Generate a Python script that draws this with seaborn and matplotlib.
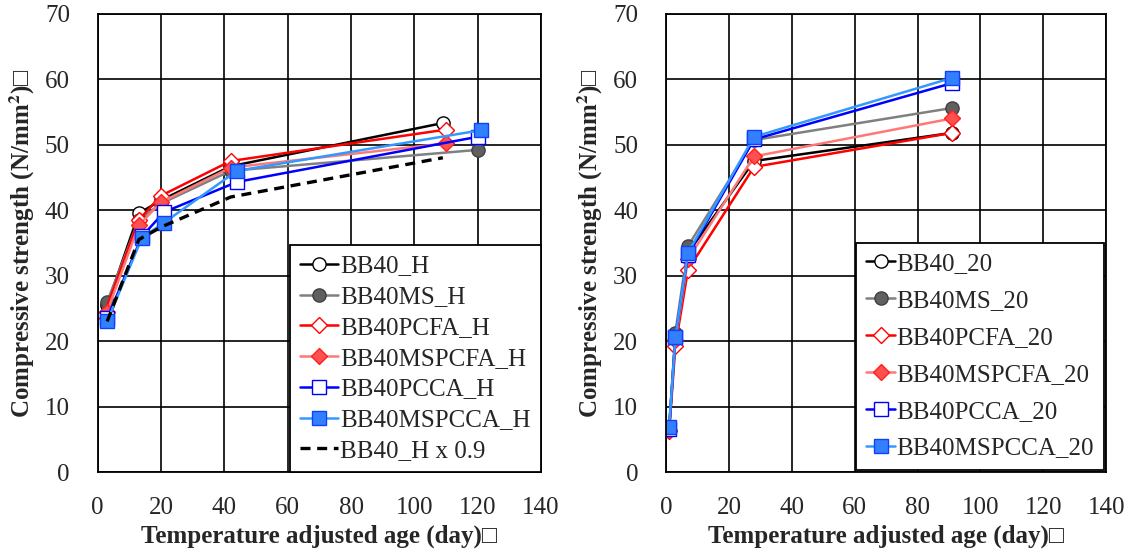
import matplotlib
matplotlib.use("Agg")
import matplotlib.pyplot as plt
import seaborn as sns

# ---- data ----
# left panel (H curing)
x_bb40_h = [3, 13, 20, 42, 109]
y_bb40_h = [25.5, 39.5, 41.5, 46.7, 53.3]
x_bb40ms_h = [3, 13, 20, 42, 120]
y_bb40ms_h = [26.0, 38.5, 41.0, 46.0, 49.2]
x_bb40pcfa_h = [2, 13, 20, 42, 110]
y_bb40pcfa_h = [24.0, 38.5, 42.2, 47.5, 52.3]
x_bb40mspcfa_h = [3, 13, 20, 42, 110]
y_bb40mspcfa_h = [24.5, 37.7, 41.2, 46.5, 50.2]
x_bb40pcca_h = [3, 14, 21, 44, 120]
y_bb40pcca_h = [23.5, 36.0, 39.7, 44.3, 51.2]
x_bb40mspcca_h = [3, 14, 21, 44, 121]
y_bb40mspcca_h = [23.0, 35.8, 38.1, 46.0, 52.2]
x_bb40_h09 = [3, 13, 20, 42, 109]
y_bb40_h09 = [23.0, 35.5, 37.4, 42.0, 48.0]

# right panel (20 C curing)
x_20 = [1, 3, 7, 28, 91]
y_bb40_20 = [6.5, 20.8, 33.5, 47.5, 51.8]
y_bb40ms_20 = [6.8, 21.3, 34.5, 50.7, 55.6]
y_bb40pcfa_20 = [6.2, 19.3, 30.9, 46.6, 51.8]
y_bb40mspcfa_20 = [6.4, 20.2, 32.5, 48.2, 54.0]
y_bb40pcca_20 = [6.5, 20.6, 33.2, 50.8, 59.4]
y_bb40mspcca_20 = [6.9, 20.6, 33.5, 51.2, 60.2]

sns.set_theme(style="white")
plt.rcParams['font.family'] = ['Liberation Serif', 'DejaVu Serif']
plt.rcParams['mathtext.fontset'] = 'stix'

fig = plt.figure(figsize=(11.33, 5.57), dpi=100)
ax1 = fig.add_axes([0.0862, 0.1526, 0.3913, 0.8228])
ax2 = fig.add_axes([0.5878, 0.1526, 0.3886, 0.8228])

# styles: color, marker, face, edge
styles = [
    ('black', 'o', 'white', 'black'),
    ('#808080', 'o', '#606060', '#404040'),
    ('red', 'D', 'white', 'red'),
    ('#FF7878', 'D', '#FF5050', '#FF2020'),
    ('blue', 's', 'white', 'blue'),
    ('#3399FF', 's', '#3380FF', '#1040FF'),
]

left_series = [
    ('BB40_H', x_bb40_h, y_bb40_h),
    ('BB40MS_H', x_bb40ms_h, y_bb40ms_h),
    ('BB40PCFA_H', x_bb40pcfa_h, y_bb40pcfa_h),
    ('BB40MSPCFA_H', x_bb40mspcfa_h, y_bb40mspcfa_h),
    ('BB40PCCA_H', x_bb40pcca_h, y_bb40pcca_h),
    ('BB40MSPCCA_H', x_bb40mspcca_h, y_bb40mspcca_h),
]
right_series = [
    ('BB40_20', x_20, y_bb40_20),
    ('BB40MS_20', x_20, y_bb40ms_20),
    ('BB40PCFA_20', x_20, y_bb40pcfa_20),
    ('BB40MSPCFA_20', x_20, y_bb40mspcfa_20),
    ('BB40PCCA_20', x_20, y_bb40pcca_20),
    ('BB40MSPCCA_20', x_20, y_bb40mspcca_20),
]

FS = 18


def draw(ax, series):
    for (name, xs, ys), (c, m, fc, ec) in zip(series, styles):
        msize = 8.5 if m == 'D' else 9.5
        sns.lineplot(x=xs, y=ys, ax=ax, color=c, marker=m, markersize=msize,
                     markerfacecolor=fc, markeredgecolor=ec, markeredgewidth=1.0,
                     linewidth=1.8, label=name, sort=False, errorbar=None)


draw(ax1, left_series)
sns.lineplot(x=x_bb40_h09, y=y_bb40_h09, ax=ax1, color='black', linewidth=2.4,
             linestyle=(0, (3, 2)), label='BB40_H x 0.9', sort=False, errorbar=None)
draw(ax2, right_series)

for ax in (ax1, ax2):
    ax.set_xlim(0, 140)
    ax.set_ylim(0, 70)
    ax.set_xticks(range(0, 141, 20))
    ax.set_yticks(range(0, 71, 10))
    ax.grid(True, color='black', linewidth=1.2)
    ax.set_axisbelow(True)
    for s in ax.spines.values():
        s.set_color('black')
        s.set_linewidth(1.3)
    ax.tick_params(axis='x', labelsize=FS, length=0, pad=18)
    ax.tick_params(axis='y', labelsize=FS, length=0, pad=20)
    ax.set_xlabel('Temperature adjusted age (day)\u25a1', fontsize=FS,
                  fontweight='bold', labelpad=4)
    ax.set_ylabel('Compressive strength (N/mm$^\\mathbf{2}$)\u25a1', fontsize=FS,
                  fontweight='bold', labelpad=6)

leg1 = ax1.legend(loc='lower right', borderaxespad=0, fontsize=FS, fancybox=False,
                  framealpha=1, edgecolor='black', handlelength=1.5,
                  handletextpad=0.1, labelspacing=0.33, borderpad=0.4)
leg1.get_frame().set_linewidth(1.3)
leg2 = ax2.legend(loc='lower right', borderaxespad=0.1, fontsize=FS, fancybox=False,
                  framealpha=1, edgecolor='black', handlelength=1.15,
                  handletextpad=0.05, labelspacing=0.575, borderpad=0.4)
leg2.get_frame().set_linewidth(1.3)

fig.savefig('out.png', dpi=100)
